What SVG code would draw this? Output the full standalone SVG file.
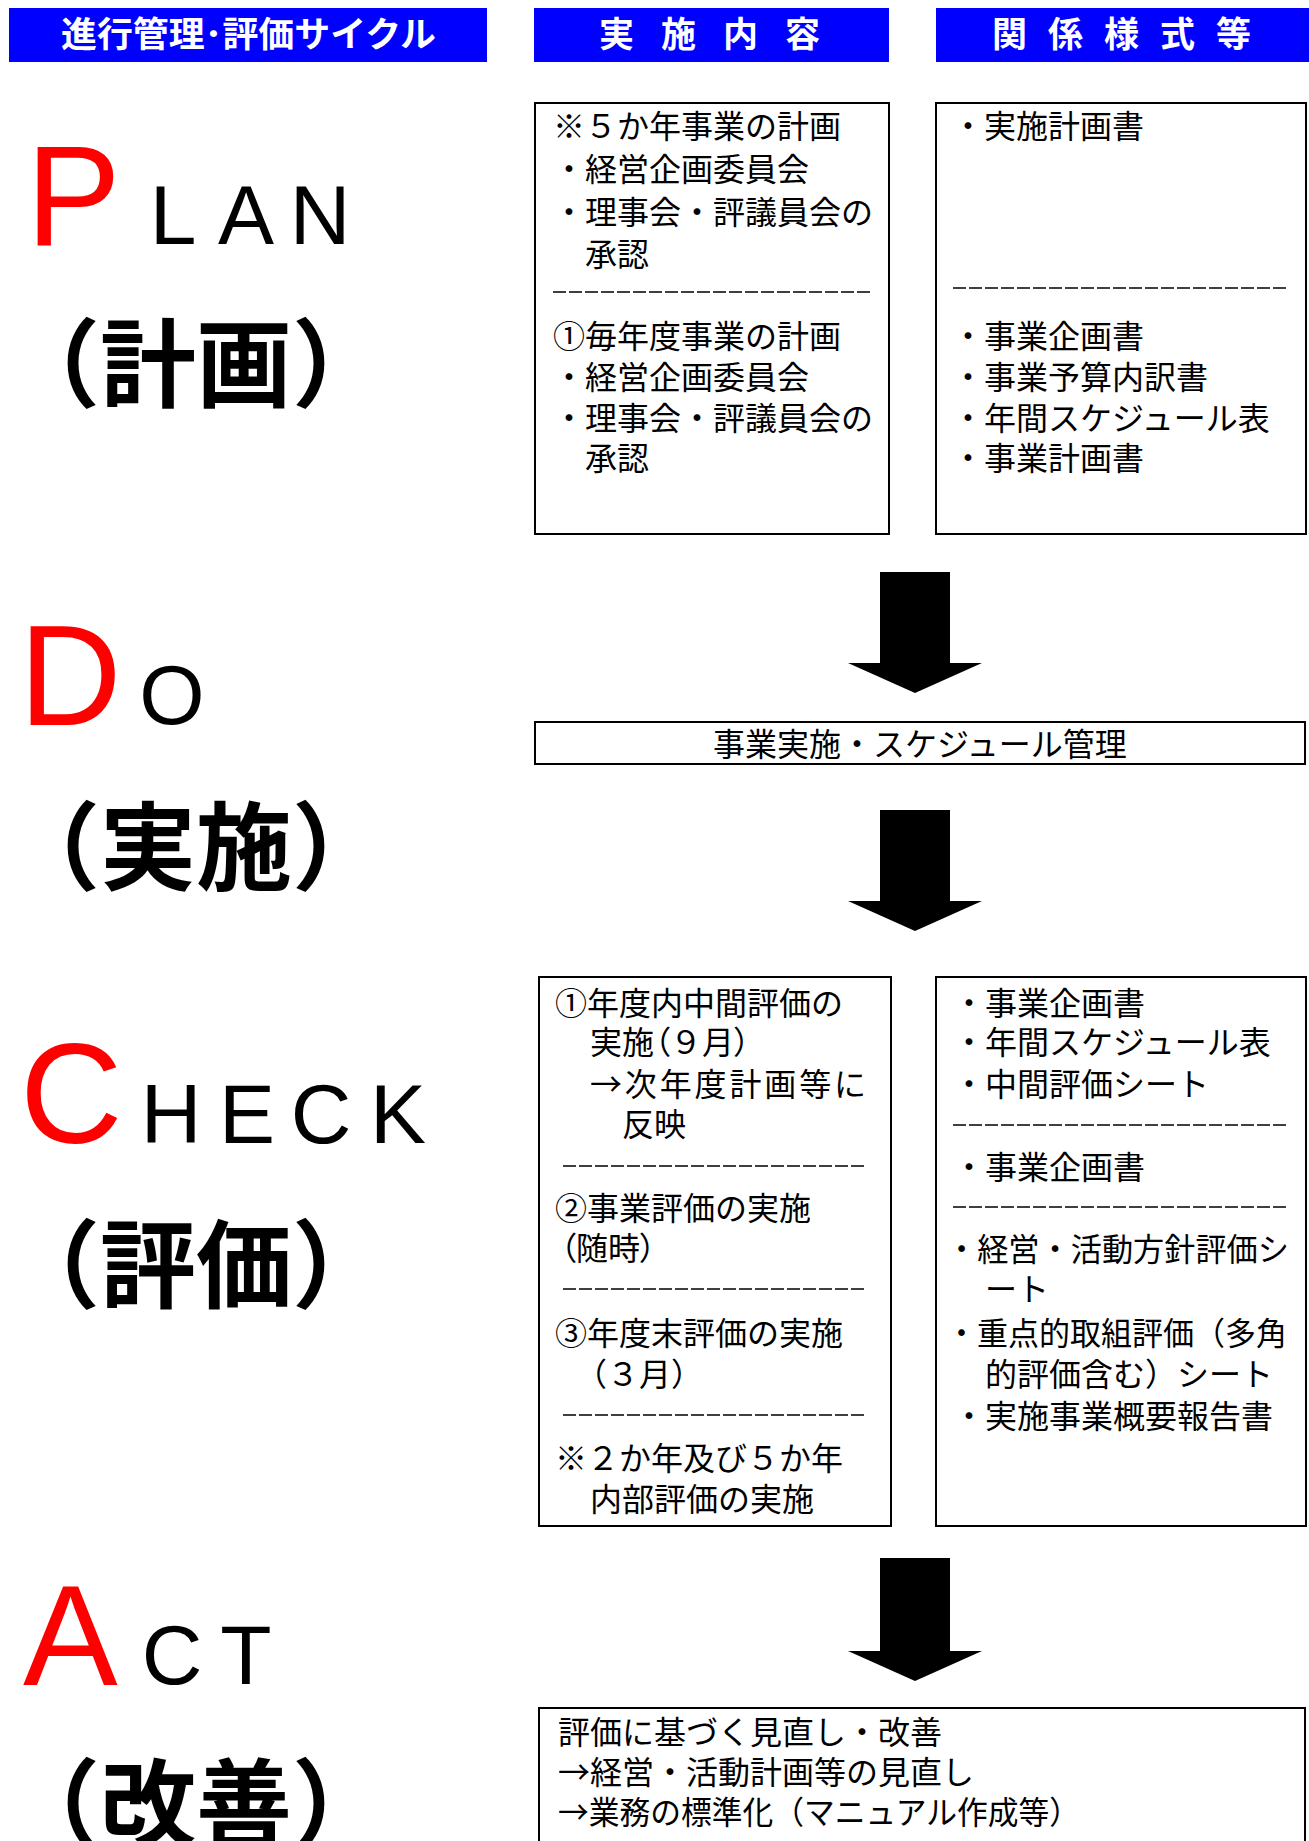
<svg xmlns="http://www.w3.org/2000/svg" width="1309" height="1841" viewBox="0 0 1309 1841">
<style>
.hdr{fill:#0000ff}
.hdrt{fill:#fff;font-family:"Noto Sans CJK JP",sans-serif;font-weight:bold;font-size:35px}
.box{fill:#fff;stroke:#000;stroke-width:2}
.t{font-family:"Noto Sans CJK JP",sans-serif;font-size:32px;fill:#000}
.palt{font-feature-settings:"palt"}
.dash{stroke:#000;stroke-width:1.5;stroke-dasharray:13 3}
.big{font-family:"Liberation Sans",Arial,sans-serif;font-size:142px;fill:#ff0000}
.sm{font-family:"Liberation Sans",Arial,sans-serif;font-size:84px;fill:#000;text-anchor:middle}
.kj{font-family:"Noto Sans CJK JP",sans-serif;font-weight:bold;font-size:96px;fill:#000}
.arr{fill:#000}
</style>
<rect width="1309" height="1841" fill="#fff"/>

<g id="header-cycle">
<rect class="hdr" x="9" y="8" width="478" height="54"/>
<text class="hdrt" x="61" y="47" textLength="375" lengthAdjust="spacingAndGlyphs">進行管理･評価サイクル</text>
</g>
<g id="header-content">
<rect class="hdr" x="534" y="8" width="355" height="54"/>
<text class="hdrt" x="599" y="47" letter-spacing="27">実施内容</text>
</g>
<g id="header-forms">
<rect class="hdr" x="936" y="8" width="373" height="54"/>
<text class="hdrt" x="992" y="47" letter-spacing="21">関係様式等</text>
</g>

<g id="label-plan">
<text class="big" x="26" y="245">P</text>
<text class="sm" y="244"><tspan x="173">L</tspan><tspan x="246">A</tspan><tspan x="320">N</tspan></text>
<text class="kj" x="4" y="399">（計画）</text>
</g>
<g id="label-do">
<text class="big" x="19" y="725">D</text>
<text class="sm" x="172" y="724">O</text>
<text class="kj" x="4" y="882">（実施）</text>
</g>
<g id="label-check">
<text class="big" x="20" y="1143">C</text>
<text class="sm" y="1143"><tspan x="171">H</tspan><tspan x="247">E</tspan><tspan x="321">C</tspan><tspan x="398">K</tspan></text>
<text class="kj" x="4" y="1300">（評価）</text>
</g>
<g id="label-act">
<text class="big" x="23" y="1685">A</text>
<text class="sm" y="1684"><tspan x="172">C</tspan><tspan x="246">T</tspan></text>
<text class="kj" x="4" y="1839">（改善）</text>
</g>

<g id="plan-content">
<rect class="box" x="535" y="103" width="354" height="431"/>
<text class="t" x="553" y="138">※５か年事業の計画</text>
<text class="t" x="553" y="181">・経営企画委員会</text>
<text class="t" x="553" y="224">・理事会・評議員会の</text>
<text class="t" x="585" y="266">承認</text>
<line class="dash" x1="553" y1="292" x2="872" y2="292"/>
<text class="t" x="553" y="348">①毎年度事業の計画</text>
<text class="t" x="553" y="389">・経営企画委員会</text>
<text class="t" x="553" y="430">・理事会・評議員会の</text>
<text class="t" x="585" y="470">承認</text>
</g>
<g id="plan-forms">
<rect class="box" x="936" y="103" width="370" height="431"/>
<text class="t" x="952" y="138">・実施計画書</text>
<line class="dash" x1="953" y1="288" x2="1288" y2="288"/>
<text class="t" x="952" y="348">・事業企画書</text>
<text class="t" x="952" y="389">・事業予算内訳書</text>
<text class="t" x="952" y="430">・年間スケジュール表</text>
<text class="t" x="952" y="470">・事業計画書</text>
</g>

<g id="do-content">
<rect class="box" x="535" y="722" width="770" height="42"/>
<text class="t" x="920" y="756" text-anchor="middle">事業実施・スケジュール管理</text>
</g>

<g id="check-content">
<rect class="box" x="539" y="977" width="352" height="549"/>
<text class="t" x="555" y="1015">①年度内中間評価の</text>
<text class="t" x="590" y="1054">実施<tspan class="palt">（</tspan>９月<tspan class="palt">）</tspan></text>
<text class="t" x="590" y="1096" textLength="276" lengthAdjust="spacing">→次年度計画等に</text>
<text class="t" x="622" y="1136">反映</text>
<line class="dash" x1="563" y1="1166" x2="867" y2="1166"/>
<text class="t" x="555" y="1220">②事業評価の実施</text>
<text class="t palt" x="560" y="1260">（随時）</text>
<line class="dash" x1="563" y1="1289" x2="867" y2="1289"/>
<text class="t" x="555" y="1345">③年度末評価の実施</text>
<text class="t" x="575" y="1386">（３月）</text>
<line class="dash" x1="563" y1="1415" x2="867" y2="1415"/>
<text class="t" x="555" y="1470">※２か年及び５か年</text>
<text class="t" x="590" y="1511">内部評価の実施</text>
</g>
<g id="check-forms">
<rect class="box" x="936" y="977" width="370" height="549"/>
<text class="t" x="953" y="1015">・事業企画書</text>
<text class="t" x="953" y="1054">・年間スケジュール表</text>
<text class="t" x="953" y="1096">・中間評価シート</text>
<line class="dash" x1="953" y1="1125" x2="1288" y2="1125"/>
<text class="t" x="953" y="1179">・事業企画書</text>
<line class="dash" x1="953" y1="1207" x2="1288" y2="1207"/>
<text class="t" x="946" y="1261" textLength="343" lengthAdjust="spacingAndGlyphs">・経営・活動方針評価シ</text>
<text class="t" x="985" y="1301">ート</text>
<text class="t" x="946" y="1345" textLength="341" lengthAdjust="spacingAndGlyphs">・重点的取組評価（多角</text>
<text class="t" x="985" y="1386">的評価含む）シート</text>
<text class="t" x="953" y="1428">・実施事業概要報告書</text>
</g>

<g id="act-content">
<rect class="box" x="539" y="1708" width="766" height="160"/>
<text class="t" x="558" y="1744">評価に基づく見直し・改善</text>
<text class="t" x="558" y="1784">→経営・活動計画等の見直し</text>
<text class="t" x="558" y="1824" textLength="522" lengthAdjust="spacingAndGlyphs">→業務の標準化（マニュアル作成等）</text>
</g>

<g id="connectors">
<polygon class="arr" points="880,572 950,572 950,663 982,663 915,693 848,663 880,663"/>
<polygon class="arr" points="880,810 950,810 950,901 982,901 915,931 848,901 880,901"/>
<polygon class="arr" points="880,1558 950,1558 950,1651 982,1651 915,1681 848,1651 880,1651"/>
</g>
</svg>
